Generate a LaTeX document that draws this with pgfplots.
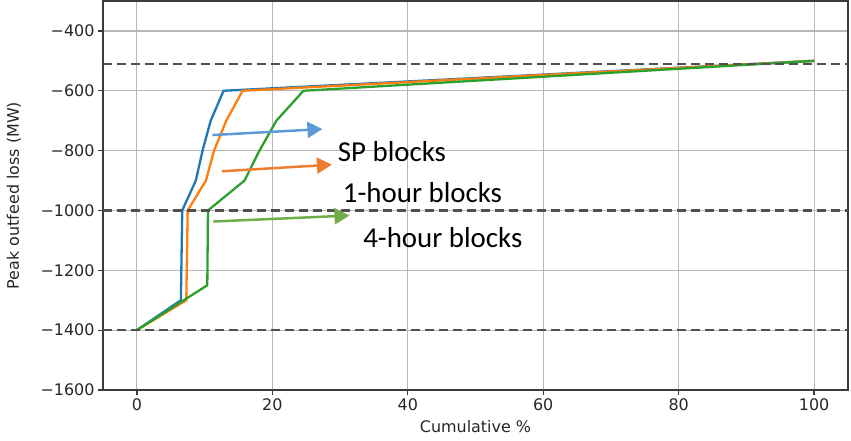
\documentclass[border=0pt]{standalone}
\usepackage{pgfplots}
\pgfplotsset{compat=1.18}
\usepackage{fontspec}
\setmainfont{DejaVu Sans}
\newfontfamily\annfont{Carlito}
\usetikzlibrary{arrows.meta}

\definecolor{tabblue}{HTML}{1F77B4}
\definecolor{taborange}{HTML}{FF7F0E}
\definecolor{tabgreen}{HTML}{2CA02C}
\definecolor{arrblue}{HTML}{5B9BD5}
\definecolor{arrorange}{HTML}{ED7D31}
\definecolor{arrgreen}{HTML}{70AD47}
\definecolor{gridgray}{HTML}{B8B8B8}
\definecolor{spine}{HTML}{3A3A3A}
\definecolor{dashgray}{HTML}{505050}
\definecolor{labelgray}{HTML}{262626}

% cumulative share (%) vs peak outfeed loss (MW)
\pgfplotstableread{
x y
0 -1400
6.5 -1300
6.7 -1000
8.7 -900
9.7 -800
10.9 -700
12.8 -600
100 -500
}\spblocks
\pgfplotstableread{
x y
0 -1400
7.3 -1300
7.5 -1000
10.2 -900
11.4 -800
13.2 -700
15.6 -600
100 -500
}\onehour
\pgfplotstableread{
x y
0 -1400
10.4 -1250
10.5 -1000
15.9 -900
18.1 -800
20.6 -700
24.6 -600
100 -500
}\fourhour

\begin{document}
\begin{tikzpicture}
\path[use as bounding box] (-103bp,-51bp) rectangle (748bp,390bp);
\begin{axis}[
  scale only axis, width=745bp, height=389bp,
  xmin=-5, xmax=105, ymin=-1600, ymax=-300,
  xtick={0,20,...,100}, xticklabels={0,20,40,60,80,100},
  ytick={-1600,-1400,...,-400},
  yticklabels={−1600,−1400,−1200,−1000,−800,−600,−400},
  grid=major, major grid style={color=gridgray, line width=1.2bp},
  axis line style={color=spine, line width=1.6bp},
  tick style={color=spine, line width=1.3bp},
  tick align=outside, major tick length=5bp, tick pos=left,
  ticklabel style={font=\fontsize{16}{19}\selectfont, text=labelgray},
  xlabel={Cumulative \%}, ylabel={Peak outfeed loss (MW)},
  label style={font=\fontsize{16}{19}\selectfont, text=labelgray},
  xlabel style={at={(axis description cs:0.5,-0.0951)}, anchor=center},
  ylabel style={at={(axis description cs:-0.1195,0.5)}, anchor=center},
]
\addplot[tabblue, line width=2.3bp] table[x=x,y=y] {\spblocks};
\addplot[taborange, line width=2.3bp] table[x=x,y=y] {\onehour};
\addplot[tabgreen, line width=2.3bp] table[x=x,y=y] {\fourhour};

% reference levels
\addplot[dashgray, line width=2.5bp, dash pattern=on 9bp off 5bp] coordinates {(-5,-510) (105,-510)};
\addplot[dashgray, line width=2.5bp, dash pattern=on 9bp off 5bp] coordinates {(-5,-1000) (105,-1000)};
\addplot[dashgray, line width=2.5bp, dash pattern=on 9bp off 5bp] coordinates {(-5,-1400) (105,-1400)};

% callouts
\draw[arrblue, line width=2.5bp, -{Triangle[length=15bp,width=16bp]}] (axis cs:11.16,-748) -- (axis cs:27.4,-728);
\draw[arrorange, line width=2.5bp, -{Triangle[length=15bp,width=16bp]}] (axis cs:12.54,-869) -- (axis cs:28.8,-847);
\draw[arrgreen, line width=2.5bp, -{Triangle[length=15bp,width=16bp]}] (axis cs:11.3,-1037) -- (axis cs:31.4,-1017);

\node[anchor=base west, inner sep=0, font=\annfont\fontsize{29}{35}\selectfont] at (axis cs:29.65,-837) {SP blocks};
\node[anchor=base west, inner sep=0, font=\annfont\fontsize{29}{35}\selectfont] at (axis cs:30.4,-973) {1-hour blocks};
\node[anchor=base west, inner sep=0, font=\annfont\fontsize{29}{35}\selectfont] at (axis cs:33.4,-1123) {4-hour blocks};
\end{axis}
\end{tikzpicture}
\end{document}
